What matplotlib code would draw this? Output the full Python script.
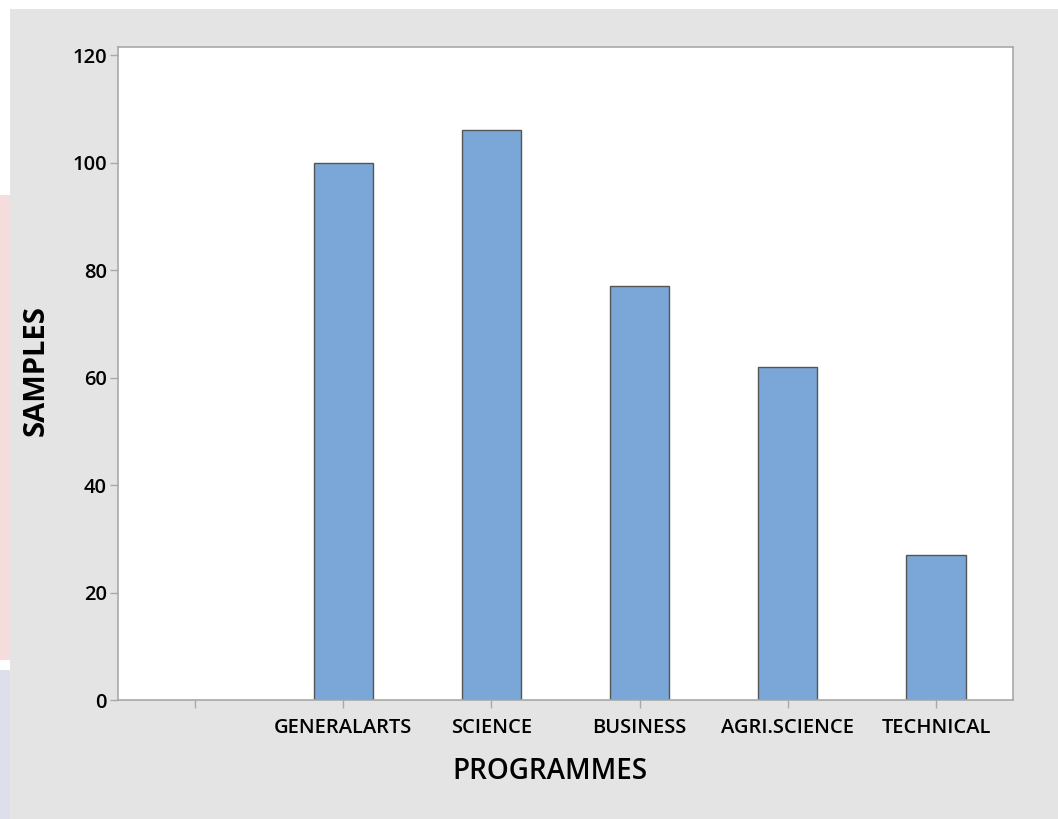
import matplotlib.pyplot as plt
from matplotlib.patches import Rectangle

# Data
programmes = ['', 'GENERALARTS', 'SCIENCE', 'BUSINESS', 'AGRI.SCIENCE', 'TECHNICAL']
samples = [0, 100, 106, 77, 62, 27]
yticks = [0, 20, 40, 60, 80, 100, 120]

W, H = 1058, 819
fig = plt.figure(figsize=(W / 100, H / 100), dpi=100, facecolor='white')

# gray panel + left edge strip
fig.patches.append(Rectangle((10 / W, 0), 1, 1 - 9 / H, transform=fig.transFigure,
                             facecolor='#e4e4e4', edgecolor='none', zorder=-10))
fig.patches.append(Rectangle((0, (H - 660) / H), 10 / W, 465 / H, transform=fig.transFigure,
                             facecolor='#f7dcdd', edgecolor='none', zorder=-10))
fig.patches.append(Rectangle((0, 0), 10 / W, (H - 670) / H, transform=fig.transFigure,
                             facecolor='#dde0ea', edgecolor='none', zorder=-10))

ax = fig.add_axes([118 / W, (H - 700) / H, (1013 - 118) / W, (700 - 47) / H])
ax.set_facecolor('white')

x = list(range(len(programmes)))
ax.bar(x[1:], samples[1:], width=0.4, color='#7ba7d8', edgecolor='#555555', linewidth=1)

ax.set_xlim(-0.52, 5.52)
ax.set_ylim(0, 121.5)
ax.set_xticks(x)
ax.set_xticklabels(programmes)
ax.set_yticks(yticks)

font = 'Open Sans'
for lab in ax.get_xticklabels() + ax.get_yticklabels():
    lab.set_fontfamily(font)
    lab.set_fontweight('semibold')
    lab.set_fontsize(14.5)
    lab.set_color('black')

for s in ax.spines.values():
    s.set_color('#a8a8a8')
    s.set_linewidth(1.2)
ax.tick_params(axis='both', direction='out', length=6, color='#a8a8a8', width=1)
ax.tick_params(axis='x', pad=7)
ax.tick_params(axis='y', pad=2)

ax.set_xlabel('PROGRAMMES', fontfamily=font, fontweight='semibold', fontsize=20)
ax.xaxis.set_label_coords(0.483, -0.087)
ax.set_ylabel('SAMPLES', fontfamily=font, fontweight='bold', fontsize=21)
ax.yaxis.set_label_coords(-0.075, 0.505)

fig.savefig('out.png', dpi=100, facecolor=fig.get_facecolor())
